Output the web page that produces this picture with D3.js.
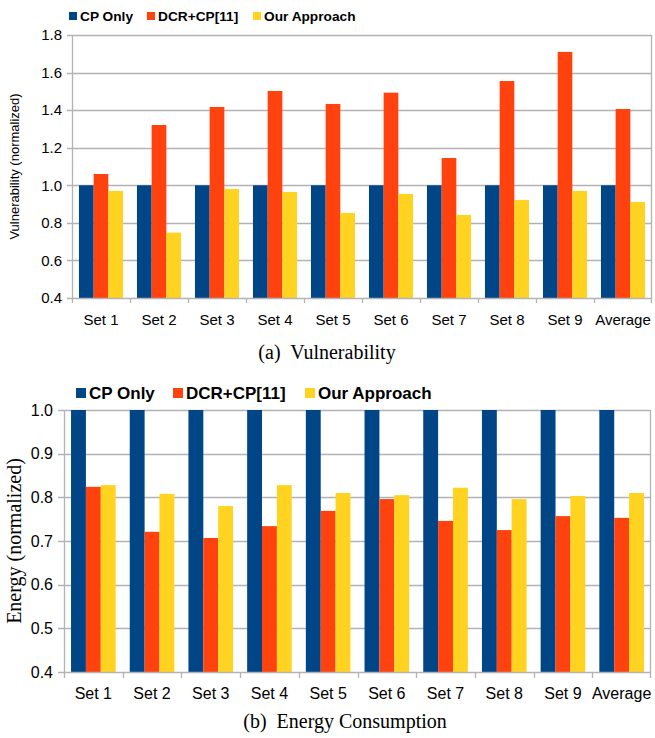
<!DOCTYPE html>
<html>
<head>
<meta charset="utf-8">
<script src="https://cdn.jsdelivr.net/npm/d3@7"></script>
<style>
  html, body { margin: 0; padding: 0; background: #fff; }
  svg { display: block; }
</style>
</head>
<body>
<svg id="chart" width="655" height="738"></svg>
<script>
// ---- data ----
const categories = ["Set 1", "Set 2", "Set 3", "Set 4", "Set 5", "Set 6", "Set 7", "Set 8", "Set 9", "Average"];
const seriesNames = ["CP Only", "DCR+CP[11]", "Our Approach"];
const seriesColors = ["#004586", "#ff420e", "#ffd320"];

const vulnCP = [1.0, 1.0, 1.0, 1.0, 1.0, 1.0, 1.0, 1.0, 1.0, 1.0];
const vulnDCR = [1.06, 1.321, 1.417, 1.502, 1.433, 1.493, 1.145, 1.555, 1.71, 1.406];
const vulnOurs = [0.97, 0.748, 0.98, 0.964, 0.853, 0.954, 0.842, 0.922, 0.97, 0.911];
const vulnTicks = [0.4, 0.6, 0.8, 1.0, 1.2, 1.4, 1.6, 1.8];

const energyCP = [1.0, 1.0, 1.0, 1.0, 1.0, 1.0, 1.0, 1.0, 1.0, 1.0];
const energyDCR = [0.824, 0.721, 0.707, 0.734, 0.769, 0.796, 0.746, 0.725, 0.757, 0.753];
const energyOurs = [0.828, 0.808, 0.780, 0.828, 0.810, 0.805, 0.822, 0.796, 0.803, 0.810];
const energyTicks = [0.4, 0.5, 0.6, 0.7, 0.8, 0.9, 1.0];

const svg = d3.select("#chart");
const SANS = "'Liberation Sans', Arial, sans-serif";
const SERIF = "'Liberation Serif', 'Times New Roman', serif";
const GRID = "#b3b3b3";

function drawChart(cfg) {
  const g = svg.append("g");
  const x = d3.scaleBand().domain(categories).range([cfg.left, cfg.right])
    .paddingInner(0.24).paddingOuter(0.12);
  const y = d3.scaleLinear().domain(cfg.domain).range([cfg.bottom, cfg.top]);
  const x1 = d3.scaleBand().domain(d3.range(seriesNames.length)).range([0, x.bandwidth()]);

  // grid lines
  g.append("g").selectAll("line").data(cfg.ticks.filter(t => t !== cfg.domain[0]))
    .join("line")
    .attr("x1", cfg.left - cfg.tickLen).attr("x2", cfg.right)
    .attr("y1", d => Math.round(y(d)) + 0.5).attr("y2", d => Math.round(y(d)) + 0.5)
    .attr("stroke", GRID).attr("stroke-width", 1.3);

  // bars
  const series = cfg.series;
  const groups = g.append("g").selectAll("g").data(categories).join("g")
    .attr("transform", d => `translate(${x(d)},0)`);
  groups.selectAll("rect")
    .data((c, i) => series.map((s, k) => ({ k, v: s[i] })))
    .join("rect")
    .attr("x", d => x1(d.k))
    .attr("width", x1.bandwidth())
    .attr("y", d => y(d.v))
    .attr("height", d => y(cfg.domain[0]) - y(d.v))
    .attr("fill", d => seriesColors[d.k]);

  // left axis line and right border
  g.append("line").attr("x1", cfg.left + 0.5).attr("x2", cfg.left + 0.5)
    .attr("y1", cfg.top).attr("y2", cfg.bottom + cfg.tickLen)
    .attr("stroke", GRID).attr("stroke-width", 1.3);
  g.append("line").attr("x1", cfg.right - 0.5).attr("x2", cfg.right - 0.5)
    .attr("y1", cfg.top).attr("y2", cfg.bottom + cfg.tickLen)
    .attr("stroke", GRID).attr("stroke-width", 1.3);
  // bottom axis line + tick at lowest value
  g.append("line").attr("x1", cfg.left - cfg.tickLen).attr("x2", cfg.right)
    .attr("y1", Math.round(y(cfg.domain[0])) + 0.5).attr("y2", Math.round(y(cfg.domain[0])) + 0.5)
    .attr("stroke", GRID).attr("stroke-width", 1.3);
  // x ticks at category boundaries
  const bounds = categories.map(c => x(c) - x.step() * x.paddingInner() / 2);
  bounds.push(cfg.right);
  g.append("g").selectAll("line").data(bounds.slice(1, -1)).join("line")
    .attr("x1", d => Math.round(d) + 0.5).attr("x2", d => Math.round(d) + 0.5)
    .attr("y1", cfg.bottom).attr("y2", cfg.bottom + cfg.tickLen)
    .attr("stroke", GRID).attr("stroke-width", 1.3);

  // y tick labels
  g.append("g").selectAll("text").data(cfg.ticks).join("text")
    .attr("x", cfg.left - cfg.labelGap)
    .attr("y", d => y(d))
    .attr("dy", "0.35em")
    .attr("text-anchor", "end")
    .attr("font-family", SANS).attr("font-size", cfg.tickFont)
    .attr("fill", "#000")
    .text(d => d3.format(".1f")(d));

  // x labels
  g.append("g").selectAll("text").data(categories).join("text")
    .attr("x", d => x(d) + x.bandwidth() / 2)
    .attr("y", cfg.xLabelY)
    .attr("text-anchor", "middle")
    .attr("font-family", SANS).attr("font-size", cfg.tickFont)
    .attr("fill", "#000")
    .text(d => d);

  // y title
  g.append("text")
    .attr("transform", `translate(${cfg.yTitleX},${(cfg.top + cfg.bottom) / 2}) rotate(-90)`)
    .attr("text-anchor", "middle")
    .attr("dy", "0.35em")
    .attr("font-family", cfg.yTitleFamily).attr("font-size", cfg.yTitleFont)
    .attr("fill", "#000")
    .text(cfg.yTitle);

  // legend
  const leg = g.append("g");
  seriesNames.forEach((name, k) => {
    const lx = cfg.legendX[k];
    leg.append("rect").attr("x", lx).attr("y", cfg.legendY - cfg.legendBox / 2)
      .attr("width", cfg.legendBox).attr("height", cfg.legendBox)
      .attr("fill", seriesColors[k]);
    leg.append("text").attr("x", lx + cfg.legendBox + 3).attr("y", cfg.legendY)
      .attr("dy", "0.36em")
      .attr("font-family", SANS).attr("font-weight", "bold")
      .attr("font-size", cfg.legendFont).attr("fill", "#000")
      .text(name);
  });

  // caption
  g.append("text").attr("x", cfg.captionX).attr("y", cfg.captionY)
    .attr("text-anchor", "middle")
    .attr("font-family", SERIF).attr("font-size", cfg.captionFont)
    .attr("fill", "#000")
    .style("white-space", "pre")
    .text(cfg.caption);
}

drawChart({
  left: 72, right: 652, top: 35, bottom: 298,
  domain: [0.4, 1.8], ticks: vulnTicks,
  series: [vulnCP, vulnDCR, vulnOurs],
  tickLen: 5, labelGap: 10, tickFont: 15, xLabelY: 325,
  yTitle: "Vulnerability (normalized)", yTitleX: 14, yTitleFamily: SANS, yTitleFont: 13,
  legendX: [69, 147, 253], legendY: 16, legendBox: 8, legendFont: 13.7,
  caption: "(a)  Vulnerability", captionX: 327, captionY: 359, captionFont: 20
});

drawChart({
  left: 64, right: 651, top: 410, bottom: 672,
  domain: [0.4, 1.0], ticks: energyTicks,
  series: [energyCP, energyDCR, energyOurs],
  tickLen: 6, labelGap: 11, tickFont: 16, xLabelY: 699,
  yTitle: "Energy (normalized)", yTitleX: 14, yTitleFamily: SERIF, yTitleFont: 20,
  legendX: [76, 173, 305], legendY: 393, legendBox: 10, legendFont: 17,
  caption: "(b)  Energy Consumption", captionX: 345, captionY: 728, captionFont: 20
});
</script>
</body>
</html>
